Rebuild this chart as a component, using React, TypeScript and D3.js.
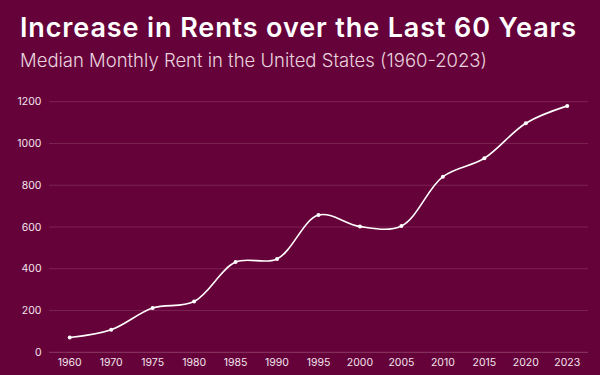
import React from "react";
import * as d3 from "d3";

const years = ["1960","1970","1975","1980","1985","1990","1995","2000","2005","2010","2015","2020","2023"];
const rents = [71, 108, 212, 243, 432, 447, 657, 602, 605, 841, 929, 1097, 1180];
const yTicks = [0, 200, 400, 600, 800, 1000, 1200];
const title = "Increase in Rents over the Last 60 Years";
const subtitle = "Median Monthly Rent in the United States (1960-2023)";

const W = 600, H = 375;
const left = 49, right = 588, top = 101.7, bottom = 352.3;

export default function App() {
  const x = d3.scaleBand<string>().domain(years).range([left, right]).padding(0);
  const y = d3.scaleLinear().domain([0, 1200]).range([bottom, top]);
  const cx = (d: string) => (x(d) as number) + x.bandwidth() / 2;
  const pts: [number, number][] = years.map((d, i) => [cx(d), y(rents[i])]);
  const line = d3.line().curve(d3.curveCatmullRom.alpha(0.5))(pts) as string;
  const font = "Inter, 'Noto Sans', sans-serif";
  return (
    <svg width={W} height={H} style={{ position: "absolute", left: 0, top: 0, display: "block" }} fontFamily={font}>
      <rect width={W} height={H} fill="#66023a" />
      <text x={20} y={36.7} fill="#ffffff" fontSize={27} fontWeight={600} textLength={556} lengthAdjust="spacing">{title}</text>
      <text x={20} y={66.7} fill="#e9d3de" fontSize={18.5} fontWeight={300} textLength={467} lengthAdjust="spacing">{subtitle}</text>
      {yTicks.map((t) => (
        <g key={t}>
          <line x1={left} x2={right} y1={y(t)} y2={y(t)} stroke={t === 0 ? "#8c3a66" : "#7c2352"} strokeWidth={1} />
          <text x={41.5} y={y(t)} dy="0.35em" textAnchor="end" fill="#f2e4ec" fontSize={10.5}>{t}</text>
        </g>
      ))}
      {years.map((d) => (
        <text key={d} x={cx(d)} y={365.5} textAnchor="middle" fill="#f2e4ec" fontSize={10.5}>{d}</text>
      ))}
      <path d={line} fill="none" stroke="#ffffff" strokeWidth={1.6} />
      {pts.map((p, i) => (
        <circle key={i} cx={p[0]} cy={p[1]} r={2} fill="#ffffff" />
      ))}
    </svg>
  );
}
